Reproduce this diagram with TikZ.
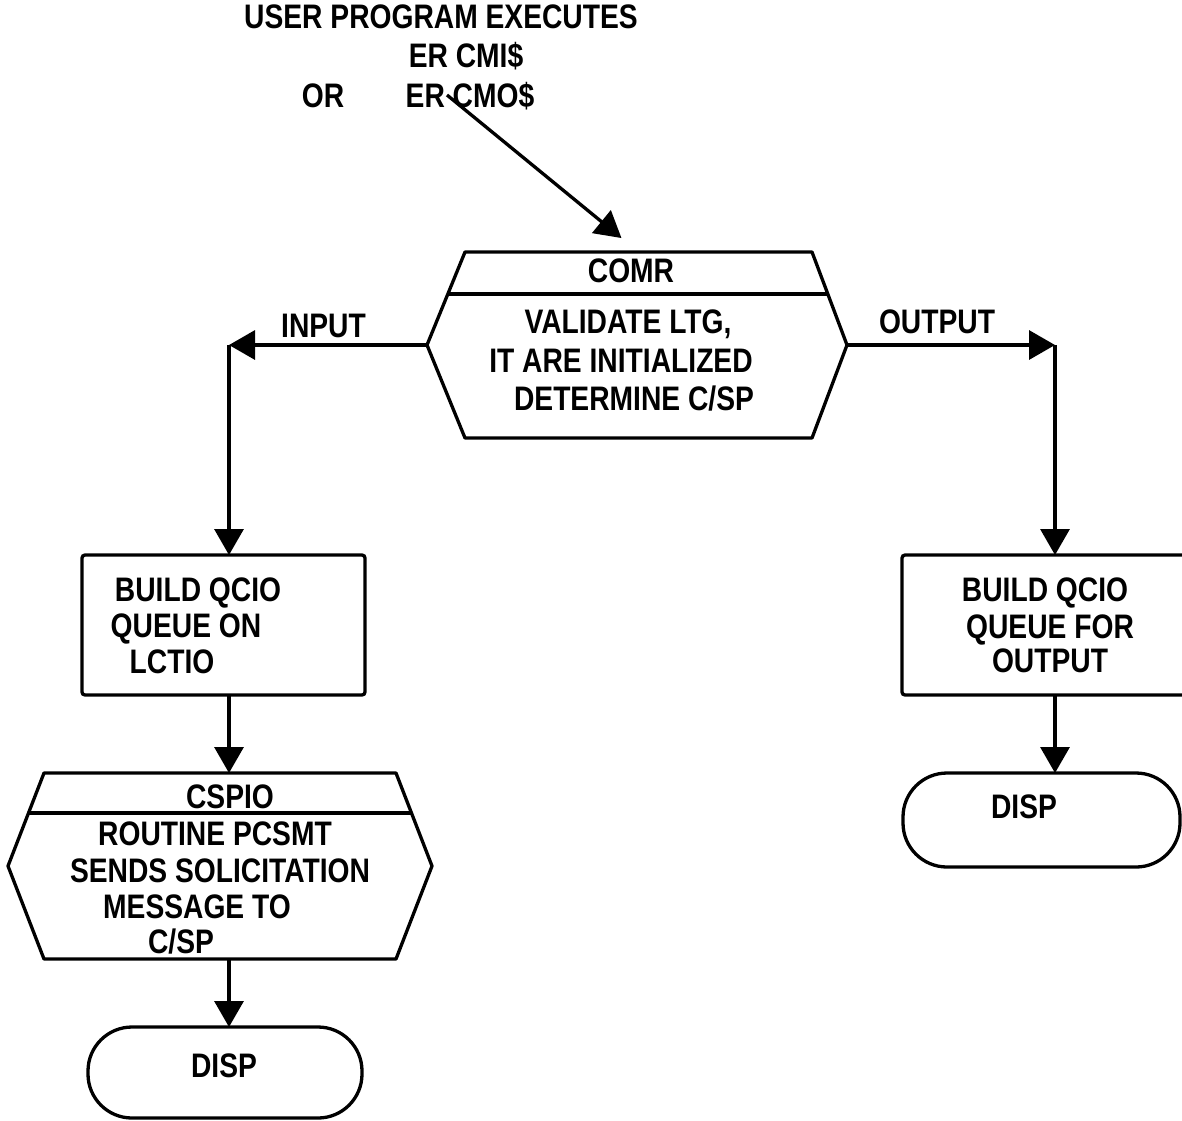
\documentclass[tikz,border=0pt]{standalone}
\usepackage{fontspec}
\newfontfamily\diagfont[FakeStretch=0.83]{Liberation Sans}
\usetikzlibrary{arrows.meta,calc}
\begin{document}
\begin{tikzpicture}[x=1pt,y=-1pt,line width=3.3pt,
  txt/.style={font=\diagfont\bfseries\fontsize{34}{38}\selectfont, inner sep=0pt, anchor=base},
  arr/.style={-{Triangle[length=26pt,width=29pt]}, line width=3.3pt},
  frame/.style={inner sep=0pt, outer sep=0pt},
  procbox/.style={draw, rounded corners=3pt, inner sep=0pt, outer sep=0pt},
  term/.style={draw, rounded corners=44pt, inner sep=0pt, outer sep=0pt},
  hexline/.style={draw, line join=round}]
\useasboundingbox[fill=white] (0,0) rectangle (1182,1120);

% top text
\node[txt] (user) at (441,28) {USER PROGRAM EXECUTES};
\node[txt] (ercmi) at (466,67) {ER CMI\$};
\node[txt] (or) at (323,107) {OR};
\node[txt] (ercmo) at (470,107) {ER CMO\$};
\coordinate (ertail) at (447,95);

% COMR hexagon
\node[frame, minimum width=347pt, minimum height=186pt] (comr) at (638.5,345) {};
\coordinate (comrW) at ($(comr.west)+(-38,0)$);
\coordinate (comrE) at ($(comr.east)+(35,0)$);
\path[hexline] (comr.north west) -- (comr.north east) -- (comrE) -- (comr.south east) -- (comr.south west) -- (comrW) -- cycle;
\draw ($(comr.north west)!0.45!(comrW)$) -- ($(comr.north east)!0.45!(comrE)$);
\node[txt] (comrt) at (631,282) {COMR};
\node[txt] (comr1) at (628,333) {VALIDATE LTG,};
\node[txt] (comr2) at (621,372) {IT ARE INITIALIZED};
\node[txt] (comr3) at (634,410) {DETERMINE C/SP};

% labels
\node[txt] (inlbl) at (323.5,337) {INPUT};
\node[txt] (outlbl) at (937,333) {OUTPUT};

\coordinate (lcorner) at (229,345);
\coordinate (rcorner) at (1055,345);

% left branch
\node[procbox, minimum width=283pt, minimum height=140pt] (bq1) at (223.5,625) {};
\node[txt] (bq1a) at (198,601) {BUILD QCIO};
\node[txt] (bq1b) at (186,637) {QUEUE ON};
\node[txt] (bq1c) at (172,673) {LCTIO};

\node[frame, minimum width=352pt, minimum height=186pt] (cspio) at (220,866) {};
\coordinate (cspioW) at ($(cspio.west)+(-36,0)$);
\coordinate (cspioE) at ($(cspio.east)+(36,0)$);
\path[hexline] (cspio.north west) -- (cspio.north east) -- (cspioE) -- (cspio.south east) -- (cspio.south west) -- (cspioW) -- cycle;
\draw ($(cspio.north west)!0.43!(cspioW)$) -- ($(cspio.north east)!0.43!(cspioE)$);
\node[txt] (cspiot) at (230,808) {CSPIO};
\node[txt] (cs1) at (215,845) {ROUTINE PCSMT};
\node[txt] (cs2) at (220,882) {SENDS SOLICITATION};
\node[txt] (cs3) at (197,918) {MESSAGE TO};
\node[txt] (cs4) at (181,953) {C/SP};

\node[term, minimum width=274pt, minimum height=91pt] (disp1) at (225,1072.5) {};
\node[txt] (disp1t) at (224,1077) {DISP};

% right branch
\node[procbox, minimum width=293pt, minimum height=140pt] (bq2) at (1048.5,625) {};
\node[txt] (bq2a) at (1045,601) {BUILD QCIO};
\node[txt] (bq2b) at (1050,638) {QUEUE FOR};
\node[txt] (bq2c) at (1050,672) {OUTPUT};

\node[term, minimum width=277pt, minimum height=94pt] (disp2) at (1041.5,820) {};
\node[txt] (disp2t) at (1024,818) {DISP};

% connectors
\draw[arr, shorten >=22pt] (ertail) -- (comr.north);
\draw[arr] (comrW) -- (lcorner);
\draw[arr] (lcorner) -- (bq1.north -| lcorner);
\draw[arr] (bq1.south -| lcorner) -- (cspio.north -| lcorner);
\draw[arr] (cspio.south -| lcorner) -- (disp1.north -| lcorner);
\draw[arr] (comrE) -- (rcorner);
\draw[arr] (rcorner) -- (bq2.north -| rcorner);
\draw[arr] (bq2.south -| rcorner) -- (disp2.north -| rcorner);
\end{tikzpicture}
\end{document}
